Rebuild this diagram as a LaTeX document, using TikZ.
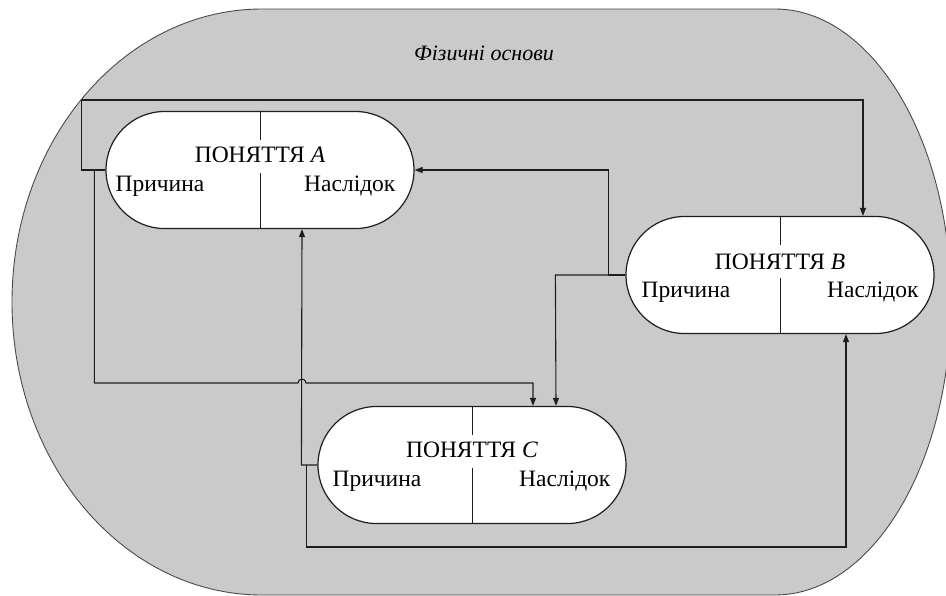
\documentclass[tikz,border=0pt]{standalone}
\usepackage{fontspec}
\setmainfont{Liberation Serif}
\usetikzlibrary{arrows.meta,shapes.misc}
\definecolor{bgfill}{RGB}{202,202,202}
\definecolor{ln}{RGB}{30,30,30}
\begin{document}
\begin{tikzpicture}[x=1pt,y=-1pt,
  concept/.style={rounded rectangle, draw=ln, line width=1.2pt, fill=white,
    minimum width=308pt, minimum height=117pt, inner sep=0pt},
  divl/.style={draw=ln, line width=1pt},
  conn/.style={draw=ln, line width=1.1pt},
  arr/.style={conn, -{Triangle[length=8pt,width=6pt]}},
  ttl/.style={font=\fontsize{23.5}{26}\selectfont, anchor=base, inner sep=0pt},
  cause/.style={font=\fontsize{23.5}{26}\selectfont, anchor=base west, inner sep=0pt},
  effect/.style={font=\fontsize{23.5}{26}\selectfont, anchor=base east, inner sep=0pt},
  lbl/.style={font=\fontsize{22}{24}\selectfont\itshape, anchor=base, inner sep=0pt}]
\useasboundingbox (0,0) rectangle (946,595);
% background region
\path[fill=bgfill, draw=ln!80, line width=0.9pt]
  (262,9) -- (775,9) arc[start angle=-90, end angle=90, x radius=176, y radius=293]
  -- (262,595) arc[start angle=90, end angle=270, x radius=250, y radius=293] -- cycle;
\node[lbl] (phys) at (484,60) {Фізичні основи};
% concepts
\node[concept] (A) at (260,170) {};
\node[concept] (B) at (780,275) {};
\node[concept] (C) at (472,465) {};
\foreach \n in {A,B,C}{
  \draw[divl] (\n.north) -- ([yshift=30pt]\n.center);
  \draw[divl] ([yshift=-2.5pt]\n.center) -- (\n.south);
}
\node[ttl] (At) at ([yshift=8pt]A.center) {ПОНЯТТЯ \textit{A}};
\node[cause] (Ac) at ([xshift=10pt,yshift=-21pt]A.west) {Причина};
\node[effect] (Ae) at ([xshift=-19pt,yshift=-21pt]A.east) {Наслідок};
\node[ttl] (Bt) at ([yshift=5.5pt]B.center) {ПОНЯТТЯ \textit{B}};
\node[cause] (Bc) at ([xshift=16pt,yshift=-22pt]B.west) {Причина};
\node[effect] (Be) at ([xshift=-16pt,yshift=-22pt]B.east) {Наслідок};
\node[ttl] (Ct) at ([yshift=8pt]C.center) {ПОНЯТТЯ \textit{C}};
\node[cause] (Cc) at ([xshift=15pt,yshift=-21pt]C.west) {Причина};
\node[effect] (Ce) at ([xshift=-16pt,yshift=-21pt]C.east) {Наслідок};
% connectors
% A -> B (over the top)
\draw[arr] (A.west) -- ++(-24,0) -- ++(0,-70) -| ([xshift=83pt]B.north);
% A -> C (with a hop over the C -> A line)
\draw[arr] ([xshift=-11pt]A.west) -- ++(0,213) -- (298,383)
  arc[start angle=180, end angle=360, radius=4] -| ([xshift=61pt]C.north);
% B -> A
\draw[arr] (B.west) -- ++(-17,0) |- (A.east);
% B -> C
\draw[arr] (B.west) -- ++(-70,0) -- ([xshift=84pt]C.north);
% C -> A
\draw[arr] (C.west) -- ++(-16,0) -- ([xshift=42pt]A.south);
% C -> B (along the bottom)
\draw[arr] ([xshift=-11pt]C.west) -- ++(0,82) -| ([xshift=66pt]B.south);
\end{tikzpicture}
\end{document}
